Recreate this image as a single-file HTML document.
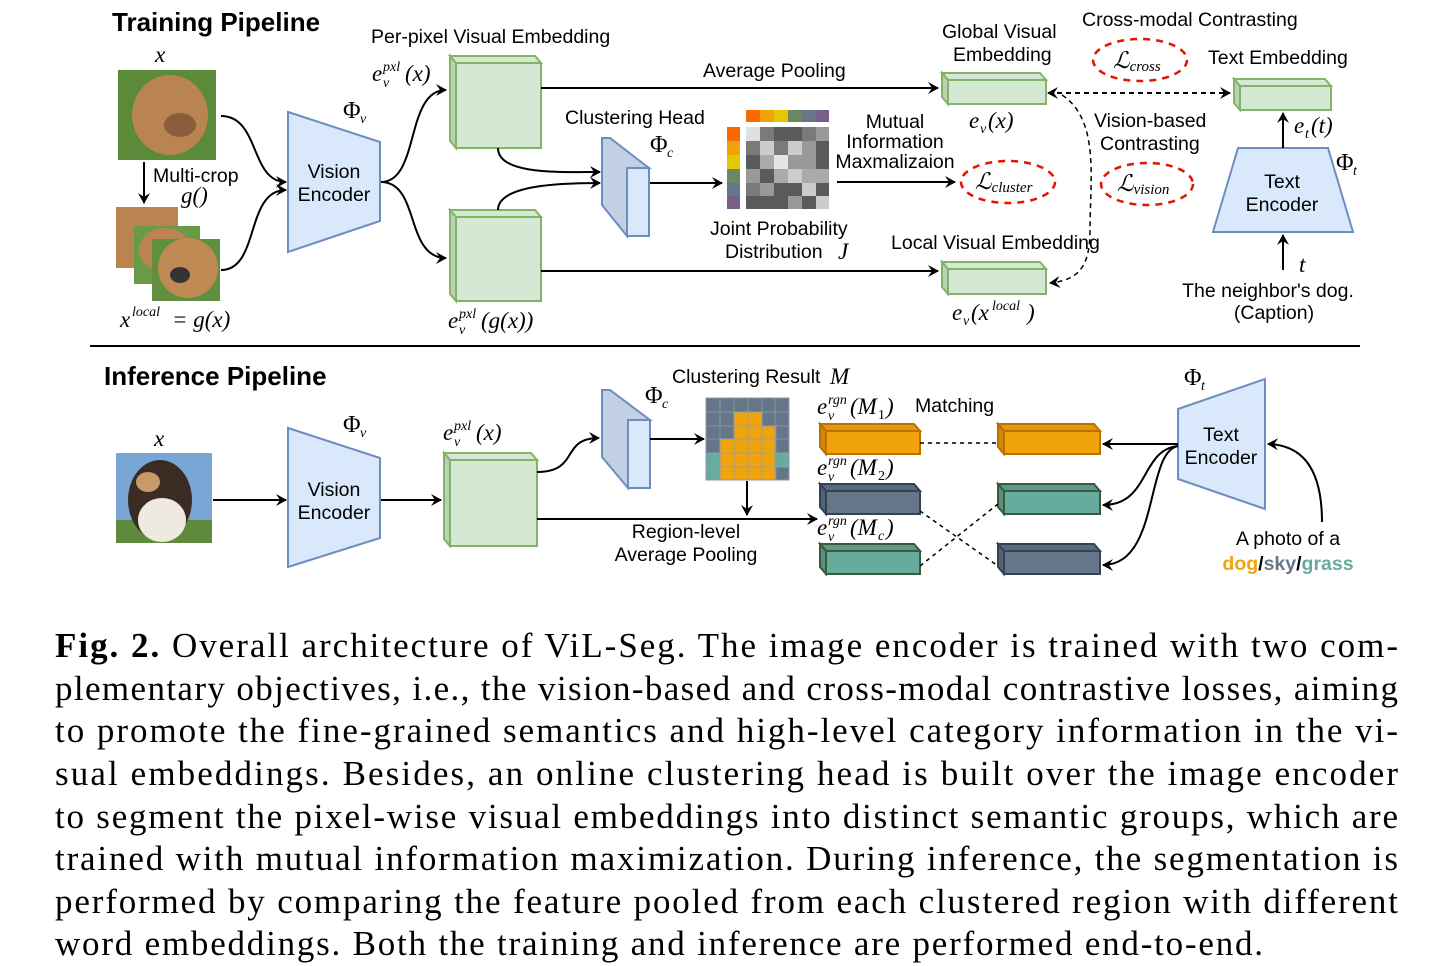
<!DOCTYPE html>
<html><head><meta charset="utf-8"><style>
html,body{margin:0;padding:0;background:#fff;width:1430px;height:966px;overflow:hidden}
svg{display:block}
.s{font-family:"Liberation Sans",sans-serif;font-size:19.5px;fill:#000}
.b{font-family:"Liberation Sans",sans-serif;font-size:26px;font-weight:bold;fill:#000}
.m{font-family:"Liberation Serif",serif;font-style:italic;font-size:23px;fill:#000}
.ms{font-family:"Liberation Serif",serif;font-style:italic;font-size:14px;fill:#000}
.p{font-family:"Liberation Serif",serif;font-style:normal;font-size:24px;fill:#000}
.c{font-family:"Liberation Serif",serif;font-size:35px;fill:#000}
</style></head><body>
<svg width="1430" height="966" viewBox="0 0 1430 966" xmlns="http://www.w3.org/2000/svg">
<defs>
<marker id="a" markerWidth="12" markerHeight="12" refX="10" refY="6" orient="auto" markerUnits="userSpaceOnUse"><path d="M0,0 L11,6 L0,12 L4,6 Z" fill="#000"/></marker>
<marker id="as" markerWidth="12" markerHeight="12" refX="2" refY="6" orient="auto" markerUnits="userSpaceOnUse"><path d="M12,0 L1,6 L12,12 L8,6 Z" fill="#000"/></marker>
</defs>
<!-- TRAINING -->
<text x="112" y="31" class="b">Training Pipeline</text>
<text x="155" y="62" class="m">x</text>
<rect x="118" y="70" width="98" height="90" fill="#5a8a3a"/>
<ellipse cx="170" cy="115" rx="38" ry="40" fill="#b98450"/>
<ellipse cx="180" cy="125" rx="16" ry="12" fill="#8a5e3a"/>
<rect x="116" y="207" width="62" height="61" fill="#b98450"/>
<rect x="134" y="226" width="66" height="58" fill="#6a9a48"/>
<ellipse cx="165" cy="250" rx="26" ry="22" fill="#b98450"/>
<rect x="152" y="239" width="68" height="62" fill="#5f8f3f"/>
<ellipse cx="188" cy="268" rx="30" ry="30" fill="#c08a55"/>
<ellipse cx="180" cy="275" rx="10" ry="8" fill="#333"/>
<line x1="144" y1="162" x2="144" y2="203" stroke="#000" stroke-width="2" marker-end="url(#a)"/>
<text x="153" y="182" class="s">Multi-crop</text>
<text x="181" y="203" class="m">g()</text>
<text x="120" y="327" class="m">x</text><text x="132" y="316" class="ms">local</text><text x="172" y="327" class="m">= g(x)</text>
<path d="M221,116 C260,116 250,182 286,182" fill="none" stroke="#000" stroke-width="2" marker-end="url(#a)"/>
<path d="M221,270 C260,270 245,190 286,190" fill="none" stroke="#000" stroke-width="2" marker-end="url(#a)"/>
<polygon points="288,112 380,142 380,221 288,252" fill="#dae8fc" stroke="#6c8ebf" stroke-width="2"/>
<text x="334" y="178" class="s" text-anchor="middle">Vision</text>
<text x="334" y="201" class="s" text-anchor="middle">Encoder</text>
<text x="343" y="118" class="p">Φ</text><text x="360" y="123" class="ms">v</text>
<path d="M381,182 C420,182 405,90 446,90" fill="none" stroke="#000" stroke-width="2" marker-end="url(#a)"/>
<path d="M381,182 C420,182 405,258 446,258" fill="none" stroke="#000" stroke-width="2" marker-end="url(#a)"/>
<text x="371" y="43" class="s">Per-pixel Visual Embedding</text>
<text x="372" y="81" class="m">e</text><text x="383" y="71" class="ms">pxl</text><text x="383" y="87" class="ms">v</text><text x="405" y="81" class="m">(x)</text>
<g stroke="#82b366" stroke-width="2">
<polygon points="450,56 535,56 541,63 456,63" fill="#d5e8d4"/>
<polygon points="450,56 456,63 456,148 450,141" fill="#b9d3b2"/>
<rect x="456" y="63" width="85" height="85" fill="#d5e8d4"/>
<polygon points="450,210 535,210 541,217 456,217" fill="#d5e8d4"/>
<polygon points="450,210 456,217 456,301 450,294" fill="#b9d3b2"/>
<rect x="456" y="217" width="85" height="84" fill="#d5e8d4"/>
</g>
<text x="448" y="328" class="m">e</text><text x="459" y="318" class="ms">pxl</text><text x="459" y="334" class="ms">v</text><text x="481" y="328" class="m">(g(x))</text>
<path d="M498,148 C498,175 560,172 600,172" fill="none" stroke="#000" stroke-width="2" marker-end="url(#a)"/>
<path d="M498,210 C498,185 560,183 600,183" fill="none" stroke="#000" stroke-width="2" marker-end="url(#a)"/>
<g stroke="#6c8ebf" stroke-width="2">
<polygon points="602,138 610,138 649,168 627,168 627,236 602,205" fill="#c3cfe2"/>
<rect x="627" y="168" width="22" height="68" fill="#dae8fc"/>
</g>
<text x="565" y="124" class="s">Clustering Head</text>
<text x="650" y="152" class="p">Φ</text><text x="667" y="157" class="ms">c</text>
<line x1="650" y1="183" x2="722" y2="183" stroke="#000" stroke-width="2" marker-end="url(#a)"/>
<g>
<rect x="746" y="110" width="14" height="12" fill="#fa6800"/><rect x="760" y="110" width="14" height="12" fill="#f0a30a"/><rect x="774" y="110" width="14" height="12" fill="#e3c800"/><rect x="788" y="110" width="14" height="12" fill="#6d8764"/><rect x="802" y="110" width="14" height="12" fill="#647687"/><rect x="816" y="110" width="13" height="12" fill="#76608a"/>
<rect x="727" y="127" width="13" height="14" fill="#fa6800"/><rect x="727" y="141" width="13" height="14" fill="#f0a30a"/><rect x="727" y="155" width="13" height="14" fill="#e3c800"/><rect x="727" y="169" width="13" height="14" fill="#6d8764"/><rect x="727" y="183" width="13" height="13" fill="#647687"/><rect x="727" y="196" width="13" height="13" fill="#76608a"/>
</g>
<g>
<rect x="746" y="127" width="14" height="14" fill="#e0e0e0"/><rect x="760" y="127" width="14" height="14" fill="#7a7a7a"/><rect x="774" y="127" width="14" height="14" fill="#5a5a5a"/><rect x="788" y="127" width="14" height="14" fill="#5a5a5a"/><rect x="802" y="127" width="14" height="14" fill="#7a7a7a"/><rect x="816" y="127" width="13" height="14" fill="#999"/>
<rect x="746" y="141" width="14" height="14" fill="#7a7a7a"/><rect x="760" y="141" width="14" height="14" fill="#ccc"/><rect x="774" y="141" width="14" height="14" fill="#7a7a7a"/><rect x="788" y="141" width="14" height="14" fill="#ccc"/><rect x="802" y="141" width="14" height="14" fill="#999"/><rect x="816" y="141" width="13" height="14" fill="#5a5a5a"/>
<rect x="746" y="155" width="14" height="14" fill="#5a5a5a"/><rect x="760" y="155" width="14" height="14" fill="#aaa"/><rect x="774" y="155" width="14" height="14" fill="#e5e5e5"/><rect x="788" y="155" width="14" height="14" fill="#999"/><rect x="802" y="155" width="14" height="14" fill="#999"/><rect x="816" y="155" width="13" height="14" fill="#5a5a5a"/>
<rect x="746" y="169" width="14" height="14" fill="#999"/><rect x="760" y="169" width="14" height="14" fill="#5a5a5a"/><rect x="774" y="169" width="14" height="14" fill="#aaa"/><rect x="788" y="169" width="14" height="14" fill="#ccc"/><rect x="802" y="169" width="14" height="14" fill="#aaa"/><rect x="816" y="169" width="13" height="14" fill="#aaa"/>
<rect x="746" y="183" width="14" height="13" fill="#7a7a7a"/><rect x="760" y="183" width="14" height="13" fill="#999"/><rect x="774" y="183" width="14" height="13" fill="#5a5a5a"/><rect x="788" y="183" width="14" height="13" fill="#5a5a5a"/><rect x="802" y="183" width="14" height="13" fill="#ccc"/><rect x="816" y="183" width="13" height="13" fill="#5a5a5a"/>
<rect x="746" y="196" width="14" height="13" fill="#5a5a5a"/><rect x="760" y="196" width="14" height="13" fill="#5a5a5a"/><rect x="774" y="196" width="14" height="13" fill="#5a5a5a"/><rect x="788" y="196" width="14" height="13" fill="#999"/><rect x="802" y="196" width="14" height="13" fill="#5a5a5a"/><rect x="816" y="196" width="13" height="13" fill="#ccc"/>
</g>
<text x="710" y="235" class="s">Joint Probability</text>
<text x="725" y="258" class="s">Distribution</text>
<text x="838" y="259" class="m">J</text>
<text x="895" y="128" class="s" font-size="17" text-anchor="middle">Mutual</text>
<text x="895" y="148" class="s" font-size="17" text-anchor="middle">Information</text>
<text x="895" y="168" class="s" font-size="17" text-anchor="middle">Maxmalizaion</text>
<line x1="837" y1="182" x2="955" y2="182" stroke="#000" stroke-width="2" marker-end="url(#a)"/>
<line x1="541" y1="88" x2="938" y2="88" stroke="#000" stroke-width="2" marker-end="url(#a)"/>
<text x="703" y="77" class="s" font-size="17">Average Pooling</text>
<line x1="541" y1="271" x2="938" y2="271" stroke="#000" stroke-width="2" marker-end="url(#a)"/>
<g stroke="#82b366" stroke-width="2">
<polygon points="942,73 1040,73 1046,80 948,80" fill="#d5e8d4"/><polygon points="942,73 948,80 948,104 942,97" fill="#b9d3b2"/><rect x="948" y="80" width="98" height="24" fill="#d5e8d4"/>
<polygon points="942,262 1040,262 1046,269 948,269" fill="#d5e8d4"/><polygon points="942,262 948,269 948,294 942,287" fill="#b9d3b2"/><rect x="948" y="269" width="98" height="25" fill="#d5e8d4"/>
<polygon points="1234,79 1325,79 1331,86 1240,86" fill="#d5e8d4"/><polygon points="1234,79 1240,86 1240,110 1234,103" fill="#b9d3b2"/><rect x="1240" y="86" width="91" height="24" fill="#d5e8d4"/>
</g>
<text x="942" y="38" class="s">Global Visual</text>
<text x="953" y="61" class="s">Embedding</text>
<text x="969" y="128" class="m">e</text><text x="980" y="133" class="ms">v</text><text x="988" y="128" class="m">(x)</text>
<text x="891" y="249" class="s">Local Visual Embedding</text>
<text x="952" y="320" class="m">e</text><text x="963" y="325" class="ms">v</text><text x="971" y="320" class="m">(x</text><text x="992" y="310" class="ms">local</text><text x="1027" y="320" class="m">)</text>
<text x="1082" y="26" class="s">Cross-modal Contrasting</text>
<text x="1208" y="64" class="s">Text Embedding</text>
<text x="1094" y="127" class="s">Vision-based</text>
<text x="1100" y="150" class="s">Contrasting</text>
<line x1="1048" y1="93" x2="1230" y2="93" stroke="#000" stroke-width="2" stroke-dasharray="5,4" marker-start="url(#as)" marker-end="url(#a)"/>
<path d="M1062,95 C1100,120 1090,180 1090,230 C1090,265 1080,280 1050,283" fill="none" stroke="#000" stroke-width="1.5" stroke-dasharray="5,4" marker-end="url(#a)"/>
<g fill="none" stroke="#e51400" stroke-width="2.5" stroke-dasharray="7,6">
<ellipse cx="1140" cy="60" rx="47" ry="21"/>
<ellipse cx="1008" cy="182" rx="47" ry="21"/>
<ellipse cx="1147" cy="184" rx="46" ry="21"/>
</g>
<text x="1113" y="68" class="m" font-size="26">ℒ<tspan font-size="15" dy="3">cross</tspan></text>
<text x="975" y="189" class="m" font-size="26">ℒ<tspan font-size="15" dy="3">cluster</tspan></text>
<text x="1117" y="191" class="m" font-size="26">ℒ<tspan font-size="15" dy="3">vision</tspan></text>
<polygon points="1238,148 1328,148 1353,232 1213,232" fill="#dae8fc" stroke="#6c8ebf" stroke-width="2"/>
<text x="1282" y="188" class="s" text-anchor="middle">Text</text>
<text x="1282" y="211" class="s" text-anchor="middle">Encoder</text>
<text x="1336" y="170" class="p">Φ</text><text x="1353" y="175" class="ms">t</text>
<line x1="1283" y1="148" x2="1283" y2="113" stroke="#000" stroke-width="2" marker-end="url(#a)"/>
<text x="1294" y="133" class="m">e</text><text x="1305" y="138" class="ms">t</text><text x="1311" y="133" class="m">(t)</text>
<line x1="1283" y1="270" x2="1283" y2="235" stroke="#000" stroke-width="2" marker-end="url(#a)"/>
<text x="1299" y="272" class="m">t</text>
<text x="1268" y="297" class="s" text-anchor="middle">The neighbor's dog.</text>
<text x="1274" y="319" class="s" text-anchor="middle">(Caption)</text>
<line x1="90" y1="346" x2="1360" y2="346" stroke="#000" stroke-width="2"/>
<!-- INFERENCE -->
<text x="104" y="385" class="b">Inference Pipeline</text>
<text x="154" y="446" class="m">x</text>
<rect x="116" y="453" width="96" height="90" fill="#7aa6d6"/>
<rect x="116" y="520" width="96" height="23" fill="#5f8a3e"/>
<ellipse cx="160" cy="500" rx="32" ry="40" fill="#3a2c22"/>
<ellipse cx="162" cy="520" rx="24" ry="22" fill="#eeeae2"/>
<ellipse cx="148" cy="482" rx="12" ry="10" fill="#c89a6a"/>
<line x1="213" y1="500" x2="286" y2="500" stroke="#000" stroke-width="2" marker-end="url(#a)"/>
<polygon points="288,428 380,458 380,538 288,567" fill="#dae8fc" stroke="#6c8ebf" stroke-width="2"/>
<text x="334" y="496" class="s" text-anchor="middle">Vision</text>
<text x="334" y="519" class="s" text-anchor="middle">Encoder</text>
<text x="343" y="432" class="p">Φ</text><text x="360" y="437" class="ms">v</text>
<line x1="381" y1="500" x2="441" y2="500" stroke="#000" stroke-width="2" marker-end="url(#a)"/>
<g stroke="#82b366" stroke-width="2">
<polygon points="444,453 531,453 537,460 450,460" fill="#d5e8d4"/><polygon points="444,453 450,460 450,546 444,539" fill="#b9d3b2"/><rect x="450" y="460" width="87" height="86" fill="#d5e8d4"/>
</g>
<text x="443" y="440" class="m">e</text><text x="454" y="430" class="ms">pxl</text><text x="454" y="446" class="ms">v</text><text x="476" y="440" class="m">(x)</text>
<path d="M537,472 C580,472 560,438 599,438" fill="none" stroke="#000" stroke-width="2" marker-end="url(#a)"/>
<line x1="537" y1="519" x2="817" y2="519" stroke="#000" stroke-width="2" marker-end="url(#a)"/>
<g stroke="#6c8ebf" stroke-width="2">
<polygon points="602,390 610,390 650,420 628,420 628,488 602,457" fill="#c3cfe2"/>
<rect x="628" y="420" width="22" height="68" fill="#dae8fc"/>
</g>
<text x="645" y="403" class="p">Φ</text><text x="662" y="408" class="ms">c</text>
<line x1="650" y1="439" x2="704" y2="439" stroke="#000" stroke-width="2" marker-end="url(#a)"/>
<text x="672" y="383" class="s">Clustering Result</text><text x="830" y="384" class="m">M</text>
<g stroke="#8a9aa8" stroke-width="0.8">
<rect x="706" y="398" width="83" height="82" fill="#647687"/>
<path d="M734,412 h28 v14 h14 v54 h-56 v-41 h14 z" fill="#f0a30a"/>
<path d="M706,453 h14 v27 h-14 z M775,453 h14 v14 h-14 z" fill="#67ab9f"/>
<path d="M720,398 v82 M734,398 v82 M748,398 v82 M762,398 v82 M775,398 v82 M706,412 h83 M706,426 h83 M706,439 h83 M706,453 h83 M706,467 h83" fill="none" stroke="#8fa0b0"/>
<rect x="706" y="398" width="83" height="82" fill="none"/>
</g>
<line x1="747" y1="481" x2="747" y2="515" stroke="#000" stroke-width="2" marker-end="url(#a)"/>
<text x="686" y="538" class="s" text-anchor="middle">Region-level</text>
<text x="686" y="561" class="s" text-anchor="middle">Average Pooling</text>
<g stroke-width="2">
<g stroke="#bd7000"><polygon points="820,424 914,424 920,431 826,431" fill="#e09a10"/><polygon points="820,424 826,431 826,454 820,447" fill="#d08a08"/><rect x="826" y="431" width="94" height="23" fill="#f0a30a"/></g>
<g stroke="#314354"><polygon points="820,484 914,484 920,491 826,491" fill="#5a6a7a"/><polygon points="820,484 826,491 826,514 820,507" fill="#536373"/><rect x="826" y="491" width="94" height="23" fill="#647687"/></g>
<g stroke="#3a5a3a"><polygon points="820,544 914,544 920,551 826,551" fill="#5c9a8e"/><polygon points="820,544 826,551 826,574 820,567" fill="#559085"/><rect x="826" y="551" width="94" height="23" fill="#67ab9f"/></g>
<g stroke="#bd7000"><polygon points="998,424 1094,424 1100,431 1004,431" fill="#e09a10"/><polygon points="998,424 1004,431 1004,454 998,447" fill="#d08a08"/><rect x="1004" y="431" width="96" height="23" fill="#f0a30a"/></g>
<g stroke="#3a5a3a"><polygon points="998,484 1094,484 1100,491 1004,491" fill="#5c9a8e"/><polygon points="998,484 1004,491 1004,514 998,507" fill="#559085"/><rect x="1004" y="491" width="96" height="23" fill="#67ab9f"/></g>
<g stroke="#314354"><polygon points="998,544 1094,544 1100,551 1004,551" fill="#5a6a7a"/><polygon points="998,544 1004,551 1004,574 998,567" fill="#536373"/><rect x="1004" y="551" width="96" height="23" fill="#647687"/></g>
</g>
<g stroke="#000" stroke-width="1.5" stroke-dasharray="4,4" fill="none">
<line x1="920" y1="443" x2="998" y2="443"/>
<line x1="920" y1="511" x2="998" y2="566"/>
<line x1="920" y1="566" x2="998" y2="504"/>
</g>
<text x="817" y="414" class="m">e</text><text x="828" y="404" class="ms">rgn</text><text x="828" y="420" class="ms">v</text><text x="850" y="414" class="m">(M</text><text x="878" y="419" class="ms" style="font-style:normal">1</text><text x="886" y="414" class="m">)</text>
<text x="817" y="475" class="m">e</text><text x="828" y="465" class="ms">rgn</text><text x="828" y="481" class="ms">v</text><text x="850" y="475" class="m">(M</text><text x="878" y="480" class="ms" style="font-style:normal">2</text><text x="886" y="475" class="m">)</text>
<text x="817" y="535" class="m">e</text><text x="828" y="525" class="ms">rgn</text><text x="828" y="541" class="ms">v</text><text x="850" y="535" class="m">(M</text><text x="878" y="540" class="ms">c</text><text x="886" y="535" class="m">)</text>
<text x="915" y="412" class="s">Matching</text>
<polygon points="1178,409 1265,379 1265,509 1178,479" fill="#dae8fc" stroke="#6c8ebf" stroke-width="2"/>
<text x="1221" y="441" class="s" text-anchor="middle">Text</text>
<text x="1221" y="464" class="s" text-anchor="middle">Encoder</text>
<text x="1184" y="385" class="p">Φ</text><text x="1201" y="390" class="ms">t</text>
<line x1="1178" y1="444" x2="1103" y2="444" stroke="#000" stroke-width="2" marker-end="url(#a)"/>
<path d="M1178,446 C1140,450 1150,505 1103,505" fill="none" stroke="#000" stroke-width="2" marker-end="url(#a)"/>
<path d="M1178,446 C1145,452 1160,565 1103,565" fill="none" stroke="#000" stroke-width="2" marker-end="url(#a)"/>
<path d="M1322,522 C1322,480 1310,445 1268,444" fill="none" stroke="#000" stroke-width="2" marker-end="url(#a)"/>
<text x="1288" y="545" class="s" text-anchor="middle">A photo of a</text>
<text x="1288" y="570" class="s" text-anchor="middle" font-weight="bold"><tspan fill="#f0a30a">dog</tspan>/<tspan fill="#647687">sky</tspan>/<tspan fill="#67ab9f">grass</tspan></text>
<!-- CAPTION -->
<g class="c">
<text x="55" y="657" textLength="1343" lengthAdjust="spacing"><tspan font-weight="bold">Fig. 2.</tspan> Overall architecture of ViL-Seg. The image encoder is trained with two com-</text>
<text x="55" y="700" textLength="1343" lengthAdjust="spacing">plementary objectives, i.e., the vision-based and cross-modal contrastive losses, aiming</text>
<text x="55" y="742" textLength="1343" lengthAdjust="spacing">to promote the fine-grained semantics and high-level category information in the vi-</text>
<text x="55" y="785" textLength="1343" lengthAdjust="spacing">sual embeddings. Besides, an online clustering head is built over the image encoder</text>
<text x="55" y="828" textLength="1343" lengthAdjust="spacing">to segment the pixel-wise visual embeddings into distinct semantic groups, which are</text>
<text x="55" y="870" textLength="1343" lengthAdjust="spacing">trained with mutual information maximization. During inference, the segmentation is</text>
<text x="55" y="913" textLength="1343" lengthAdjust="spacing">performed by comparing the feature pooled from each clustered region with different</text>
<text x="55" y="955" textLength="1208" lengthAdjust="spacing">word embeddings. Both the training and inference are performed end-to-end.</text>
</g>
</svg>
</body></html>
